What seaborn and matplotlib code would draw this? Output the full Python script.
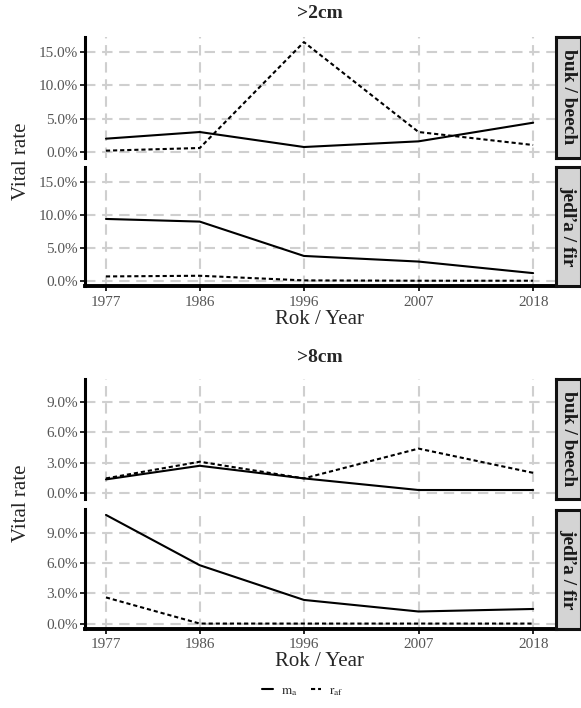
import numpy as np
import pandas as pd
import matplotlib
matplotlib.use("Agg")
import matplotlib.pyplot as plt
import seaborn as sns
from matplotlib.ticker import FuncFormatter
from matplotlib.lines import Line2D

sns.set_theme(style="white")
plt.rcParams["font.family"] = ["Liberation Serif", "DejaVu Serif"]
plt.rcParams["mathtext.fontset"] = "stix"

# ---- data ----
years = [1977, 1986, 1996, 2007, 2018]
species = ["buk / beech", "jedľa / fir"]
size_classes = [">2cm", ">8cm"]

# >2cm
beech_2_ma = [2.0, 3.0, 0.75, 1.6, 4.4]
beech_2_raf = [0.2, 0.6, 16.5, 3.0, 1.05]
fir_2_ma = [9.4, 9.0, 3.8, 2.95, 1.2]
fir_2_raf = [0.7, 0.8, 0.1, 0.05, 0.05]

# >8cm
beech_8_ma = [1.35, 2.7, 1.45, 0.3, 0.3]
beech_8_raf = [1.45, 3.1, 1.45, 4.4, 2.0]
fir_8_ma = [10.8, 5.8, 2.35, 1.2, 1.45]
fir_8_raf = [2.6, 0.0, 0.0, 0.0, 0.0]

rate_names = ["ma", "raf"]
legend_labels = [r"$\mathrm{m_a}$", r"$\mathrm{r_{af}}$"]
y_ticks = {">2cm": [0, 5, 10, 15], ">8cm": [0, 3, 6, 9]}

series = {
    (">2cm", species[0]): (beech_2_ma, beech_2_raf),
    (">2cm", species[1]): (fir_2_ma, fir_2_raf),
    (">8cm", species[0]): (beech_8_ma, beech_8_raf),
    (">8cm", species[1]): (fir_8_ma, fir_8_raf),
}

rows = []
for (sc, sp), (ma, raf) in series.items():
    for name, vals in zip(rate_names, (ma, raf)):
        for yr, v in zip(years, vals):
            rows.append(dict(size=sc, species=sp, rate=name, year=yr, value=v))
df = pd.DataFrame(rows)

# ---- layout (pixels, top origin) ----
W, H = 581, 708
fig = plt.figure(figsize=(W / 100, H / 100), dpi=100)

def add_ax(x0, y0, x1, y1):
    return fig.add_axes([x0 / W, 1 - y1 / H, (x1 - x0) / W, (y1 - y0) / H])

px_left, px_right = 84.6, 554.5
strip_x0, strip_x1 = 555.5, 580.5
panels = {
    ">2cm": [(36.6, 157.5), (166.6, 286.5)],
    ">8cm": [(378.5, 498.5), (509.5, 629.0)],
}
titles_y = {">2cm": 14, ">8cm": 358}
xlabel_y = {">2cm": 319, ">8cm": 661}

grid_kw = dict(color="#cfcfcf", linewidth=1.5, linestyle=(0, (5, 3.2)))
dash_map = {"ma": "", "raf": (2, 1.4)}
xmin, xmax = 1977 - 0.05 * 41, 2018 + 0.05 * 41
pct = FuncFormatter(lambda v, p: f"{v:.1f}%")

for sc in size_classes:
    sub = df[df["size"] == sc]
    vmax = sub["value"].max()
    ylo, yhi = -0.05 * vmax, vmax * 1.05
    for i, sp in enumerate(species):
        y0, y1 = panels[sc][i]
        ax = add_ax(px_left, y0, px_right, y1)
        d = sub[sub["species"] == sp]
        sns.lineplot(data=d, x="year", y="value", style="rate",
                     style_order=rate_names, dashes=dash_map,
                     color="black", linewidth=1.5, legend=False, ax=ax,
                     zorder=3)
        ax.set_xlim(xmin, xmax)
        ax.set_ylim(ylo, yhi)
        ax.set_xticks(years)
        ax.set_yticks(y_ticks[sc])
        ax.yaxis.set_major_formatter(pct)
        ax.grid(True, **grid_kw)
        ax.set_axisbelow(True)
        for s in ["top", "right", "bottom"]:
            ax.spines[s].set_visible(False)
        ax.spines["left"].set_linewidth(2.2)
        ax.spines["left"].set_color("black")
        ax.tick_params(axis="y", length=3.5, width=1.2, color="black",
                       labelsize=11, labelcolor="#555555", pad=1.5, left=True)
        ax.set_xlabel("")
        ax.set_ylabel("")
        if i == 1:
            ax.spines["bottom"].set_visible(True)
            ax.spines["bottom"].set_linewidth(2.8)
            ax.spines["bottom"].set_color("black")
            ax.tick_params(axis="x", length=3.5, width=1.2, color="black",
                           labelsize=11, labelcolor="#555555", pad=3.0,
                           bottom=True)
        else:
            ax.tick_params(axis="x", bottom=False, labelbottom=False)

        # facet strip on the right
        sax = add_ax(strip_x0, y0, strip_x1, y1)
        sax.set_facecolor("#d4d4d4")
        sax.set_xticks([])
        sax.set_yticks([])
        for s in sax.spines.values():
            s.set_linewidth(2.2)
            s.set_color("#111111")
        sax.text(0.5, 0.5, sp, rotation=-90, ha="center", va="center",
                 fontsize=14, fontweight="bold", color="#1a1a1a",
                 transform=sax.transAxes)

    fig.text((px_left + px_right) / 2 / W, 1 - titles_y[sc] / H, sc,
             ha="center", va="center", fontsize=14, fontweight="bold")
    fig.text((px_left + px_right) / 2 / W, 1 - xlabel_y[sc] / H,
             "Rok / Year", ha="center", va="center", fontsize=15)
    ymid = (panels[sc][0][0] + panels[sc][1][1]) / 2
    fig.text(21 / W, 1 - ymid / H, "Vital rate", rotation=90,
             ha="center", va="center", fontsize=15)

# legend at the bottom
handles = [Line2D([0], [0], color="black", lw=1.5, linestyle="-"),
           Line2D([0], [0], color="black", lw=1.5, linestyle=(0, (2, 1.4)))]
fig.legend(handles, legend_labels, loc="center",
           bbox_to_anchor=(303 / W, 1 - 691 / H), ncol=2, frameon=False,
           fontsize=9.5, handlelength=0.8, handletextpad=0.6,
           columnspacing=1.0)

fig.savefig("out.png", dpi=100)
